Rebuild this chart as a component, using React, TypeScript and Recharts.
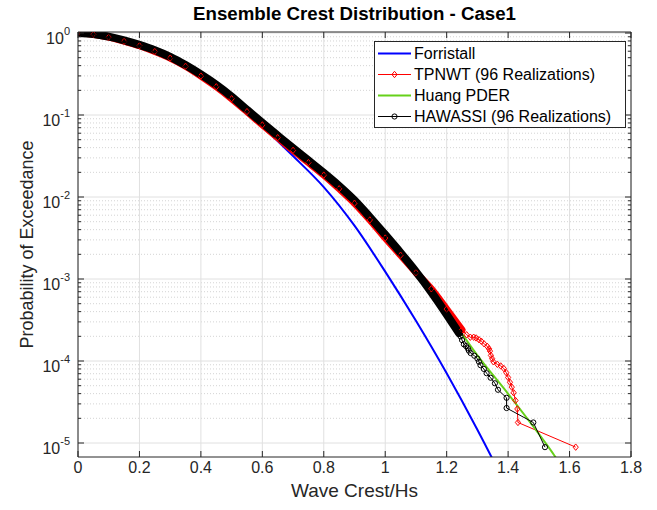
import React from 'react';
import { LineChart, Line, XAxis, YAxis, CartesianGrid, Legend } from 'recharts';

const FONT = '"Liberation Sans", Arial, Helvetica, sans-serif';
const AX = '#262626';

const xTicks = [0, 0.2, 0.4, 0.6, 0.8, 1, 1.2, 1.4, 1.6, 1.8];
const yMajor = [1e-5, 1e-4, 1e-3, 1e-2, 1e-1, 1];
const yMinor = yMajor.slice(0, -1).flatMap((d) => [2, 3, 4, 5, 6, 7, 8, 9].map((m) => m * d));
const yAll = [...yMajor, ...yMinor].sort((a, b) => a - b);

// Forristall (blue)
const forristall = [
  { x: 0, p: 1 }, { x: 0.1, p: 0.902 }, { x: 0.2, p: 0.716 }, { x: 0.3, p: 0.513 },
  { x: 0.4, p: 0.313 }, { x: 0.5, p: 0.158 }, { x: 0.6, p: 0.0724 }, { x: 0.7, p: 0.0316 },
  { x: 0.8, p: 0.0132 }, { x: 0.9, p: 0.00447 }, { x: 1.0, p: 0.00123 }, { x: 1.1, p: 3.09e-4 },
  { x: 1.2, p: 7.08e-5 }, { x: 1.3, p: 1.45e-5 }, { x: 1.35, p: 6.3e-6 }, { x: 1.37, p: 4.47e-6 },
];

// TPNWT (red) - dense part and sparse tail
const tpnwtDense = [
  { x: 0, p: 1 }, { x: 0.05, p: 0.966 }, { x: 0.1, p: 0.891 }, { x: 0.15, p: 0.794 },
  { x: 0.2, p: 0.7 }, { x: 0.25, p: 0.596 }, { x: 0.3, p: 0.495 }, { x: 0.35, p: 0.394 },
  { x: 0.4, p: 0.299 }, { x: 0.45, p: 0.221 }, { x: 0.5, p: 0.158 }, { x: 0.55, p: 0.11 },
  { x: 0.6, p: 0.0757 }, { x: 0.65, p: 0.053 }, { x: 0.7, p: 0.0371 }, { x: 0.75, p: 0.0263 },
  { x: 0.8, p: 0.0185 }, { x: 0.85, p: 0.0126 }, { x: 0.9, p: 0.0084 }, { x: 0.95, p: 0.00525 },
  { x: 1.0, p: 0.00316 }, { x: 1.05, p: 0.00195 }, { x: 1.1, p: 0.0012 }, { x: 1.15, p: 0.00076 },
  { x: 1.2, p: 0.00043 }, { x: 1.25, p: 0.00024 },
];
const tpnwtTail = [
  { x: 1.265, p: 2.09e-4 }, { x: 1.277, p: 1.95e-4 }, { x: 1.288, p: 1.95e-4 }, { x: 1.296, p: 1.91e-4 },
  { x: 1.305, p: 1.82e-4 }, { x: 1.313, p: 1.74e-4 }, { x: 1.322, p: 1.62e-4 }, { x: 1.332, p: 1.51e-4 },
  { x: 1.338, p: 1.41e-4 }, { x: 1.341, p: 1.32e-4 }, { x: 1.344, p: 1.17e-4 }, { x: 1.348, p: 1.07e-4 },
  { x: 1.352, p: 9.8e-5 }, { x: 1.365, p: 9.1e-5 }, { x: 1.376, p: 8.7e-5 }, { x: 1.386, p: 8.1e-5 },
  { x: 1.394, p: 7.2e-5 }, { x: 1.4, p: 6.3e-5 }, { x: 1.406, p: 5.5e-5 }, { x: 1.412, p: 4.8e-5 },
  { x: 1.418, p: 4.1e-5 }, { x: 1.424, p: 3.3e-5 }, { x: 1.43, p: 2.6e-5 }, { x: 1.432, p: 1.78e-5 },
  { x: 1.62, p: 8.9e-6 },
];

// Huang PDER (green)
const huang = [
  { x: 0, p: 1 }, { x: 0.1, p: 0.9 }, { x: 0.2, p: 0.716 }, { x: 0.3, p: 0.513 },
  { x: 0.4, p: 0.313 }, { x: 0.5, p: 0.168 }, { x: 0.6, p: 0.0804 }, { x: 0.7, p: 0.0394 },
  { x: 0.8, p: 0.0197 }, { x: 0.9, p: 0.0091 }, { x: 1.0, p: 0.0036 }, { x: 1.1, p: 0.00132 },
  { x: 1.2, p: 0.000398 }, { x: 1.3, p: 0.000117 }, { x: 1.4, p: 3.98e-5 }, { x: 1.5, p: 1.29e-5 },
  { x: 1.55, p: 7.1e-6 }, { x: 1.57, p: 5.4e-6 },
];

// HAWASSI (black) - dense part and sparse tail
const hawassiDense = [
  { x: 0, p: 1 }, { x: 0.05, p: 0.973 }, { x: 0.1, p: 0.902 }, { x: 0.15, p: 0.813 },
  { x: 0.2, p: 0.716 }, { x: 0.25, p: 0.617 }, { x: 0.3, p: 0.513 }, { x: 0.35, p: 0.407 },
  { x: 0.4, p: 0.313 }, { x: 0.45, p: 0.234 }, { x: 0.5, p: 0.168 }, { x: 0.55, p: 0.116 },
  { x: 0.6, p: 0.0804 }, { x: 0.65, p: 0.0562 }, { x: 0.7, p: 0.0394 }, { x: 0.75, p: 0.0279 },
  { x: 0.8, p: 0.0197 }, { x: 0.85, p: 0.01365 }, { x: 0.9, p: 0.00912 }, { x: 0.95, p: 0.00569 },
  { x: 1.0, p: 0.00347 }, { x: 1.05, p: 0.00209 }, { x: 1.1, p: 0.00123 }, { x: 1.15, p: 0.000692 },
  { x: 1.2, p: 0.00037 }, { x: 1.24, p: 0.00022 },
];
const hawassiTail = [
  { x: 1.245, p: 2.0e-4 }, { x: 1.25, p: 1.8e-4 }, { x: 1.256, p: 1.6e-4 }, { x: 1.263, p: 1.52e-4 },
  { x: 1.269, p: 1.43e-4 }, { x: 1.272, p: 1.34e-4 }, { x: 1.278, p: 1.25e-4 }, { x: 1.29, p: 1.16e-4 },
  { x: 1.3, p: 1.07e-4 }, { x: 1.305, p: 9.8e-5 }, { x: 1.31, p: 8.9e-5 }, { x: 1.321, p: 8.0e-5 },
  { x: 1.33, p: 7.1e-5 }, { x: 1.343, p: 6.25e-5 }, { x: 1.357, p: 5.35e-5 }, { x: 1.367, p: 4.46e-5 },
  { x: 1.395, p: 3.56e-5 }, { x: 1.395, p: 2.67e-5 }, { x: 1.482, p: 1.78e-5 }, { x: 1.52, p: 8.9e-6 },
];

const tpnwt = [...tpnwtDense, ...tpnwtTail];
const hawassi = [...hawassiDense, ...hawassiTail];

const series = [
  { name: 'Forristall', color: '#0000ff', width: 2, marker: 'none' },
  { name: 'TPNWT (96 Realizations)', color: '#ff0000', width: 1, marker: 'diamond' },
  { name: 'Huang PDER', color: '#66d11a', width: 2, marker: 'none' },
  { name: 'HAWASSI (96 Realizations)', color: '#000000', width: 1, marker: 'circle' },
];

const isDecade = (v: number) => Math.abs(Math.log10(v) - Math.round(Math.log10(v))) < 1e-6;

const BottomTick = ({ x, y, payload }: any) => (
  <g>
    <line x1={x} x2={x} y1={y - 5} y2={y - 11} stroke={AX} />
    <text x={x} y={y} dy="0.71em" textAnchor="middle" fill={AX} fontSize={16} fontFamily={FONT}>
      {payload.value}
    </text>
  </g>
);

const TopTick = ({ x, y }: any) => <line x1={x} x2={x} y1={y} y2={y + 6} stroke={AX} />;

const LeftTick = ({ x, y, payload }: any) => {
  const major = isDecade(payload.value);
  const ax = x + 8;
  return (
    <g>
      <line x1={ax} x2={ax + (major ? 6 : 3)} y1={y} y2={y} stroke={AX} />
      {major && (
        <text x={x} y={y + 11} textAnchor="end" fill={AX} fontSize={16} fontFamily={FONT}>
          10
          <tspan dy={-9} fontSize={11}>
            {Math.round(Math.log10(payload.value))}
          </tspan>
        </text>
      )}
    </g>
  );
};

const RightTick = ({ x, y, payload }: any) => {
  const major = isDecade(payload.value);
  return <line x1={x} x2={x - (major ? 6 : 3)} y1={y} y2={y} stroke={AX} />;
};

const circleDot = (props: any) => (
  <circle key={`c-${props.index}`} cx={props.cx} cy={props.cy} r={2.6} fill="none" stroke="#000" strokeWidth={1} />
);

const diamondDot = (props: any) => {
  const { cx, cy } = props;
  return (
    <path
      key={`d-${props.index}`}
      d={`M${cx},${cy - 3.2}L${cx + 2.6},${cy}L${cx},${cy + 3.2}L${cx - 2.6},${cy}Z`}
      fill="none"
      stroke="#ff0000"
      strokeWidth={1}
    />
  );
};

const LegendBox = () => (
  <div
    style={{
      border: `1px solid ${AX}`,
      background: '#fff',
      width: 250,
      padding: '1px 0 0 0',
      fontFamily: FONT,
      fontSize: 16,
      color: '#000',
    }}
  >
    {series.map((s) => (
      <div key={s.name} style={{ display: 'flex', alignItems: 'center', height: 21 }}>
        <svg width={39} height={21} style={{ flex: 'none' }}>
          <line x1={3} x2={36} y1={10.5} y2={10.5} stroke={s.color} strokeWidth={s.width} />
          {s.marker === 'circle' && <circle cx={19.5} cy={10.5} r={2.6} fill="none" stroke={s.color} />}
          {s.marker === 'diamond' && (
            <path d="M19.5,7.3L22.1,10.5L19.5,13.7L16.9,10.5Z" fill="none" stroke={s.color} />
          )}
        </svg>
        <span style={{ whiteSpace: 'nowrap' }}>{s.name}</span>
      </div>
    ))}
  </div>
);

export default function App() {
  return (
    <div style={{ position: 'absolute', left: 0, top: 0, width: 657, height: 510, background: '#fff' }}>
      <LineChart width={657} height={510} margin={{ top: 31, right: 25, bottom: 23, left: 8 }}>
        <CartesianGrid horizontalValues={yMinor} vertical={false} stroke="#d4d4d4" strokeDasharray="1 2" />
        <CartesianGrid horizontalValues={yMajor} verticalValues={xTicks} stroke="#e0e0e0" />
        <XAxis
          dataKey="x"
          type="number"
          domain={[0, 1.8]}
          ticks={xTicks}
          interval={0}
          allowDataOverflow
          height={30}
          tickSize={0}
          tickMargin={5}
          tick={BottomTick}
          stroke={AX}
          label={{ value: 'Wave Crest/Hs', position: 'bottom', offset: -3, fill: AX, fontSize: 19, fontFamily: FONT }}
        />
        <XAxis
          xAxisId="t"
          orientation="top"
          dataKey="x"
          type="number"
          domain={[0, 1.8]}
          ticks={xTicks}
          interval={0}
          allowDataOverflow
          height={1}
          tickSize={0}
          tickMargin={0}
          tick={TopTick}
          stroke={AX}
          label={{
            value: 'Ensemble Crest Distribution - Case1',
            position: 'top',
            offset: 11,
            fill: '#000',
            fontSize: 18.7,
            fontWeight: 'bold',
            fontFamily: FONT,
          }}
        />
        <YAxis
          type="number"
          scale="log"
          domain={[6.75e-6, 1.029]}
          ticks={yAll}
          interval={0}
          allowDataOverflow
          width={70}
          tickSize={0}
          tickMargin={8}
          tick={LeftTick}
          stroke={AX}
          label={{
            value: 'Probability of Exceedance',
            angle: -90,
            position: 'insideLeft',
            offset: 19,
            fill: AX,
            fontSize: 18,
            fontFamily: FONT,
            style: { textAnchor: 'middle' },
          }}
        />
        <YAxis
          yAxisId="r"
          orientation="right"
          type="number"
          scale="log"
          domain={[6.75e-6, 1.029]}
          ticks={yAll}
          interval={0}
          allowDataOverflow
          width={1}
          tickSize={0}
          tickMargin={0}
          tick={RightTick}
          stroke={AX}
        />
        <Legend
          content={<LegendBox />}
          layout="vertical"
          align="center"
          verticalAlign="middle"
          wrapperStyle={{ position: 'absolute', left: 374, top: 41, width: 252, height: 'auto' }}
        />
        <Line data={forristall} dataKey="p" name="Forristall" type="monotone" stroke="#0000ff" strokeWidth={2} dot={false} isAnimationActive={false} />
        <Line data={tpnwtDense} dataKey="p" legendType="none" type="monotone" stroke="#ff0000" strokeWidth={7} strokeLinecap="round" dot={false} isAnimationActive={false} />
        <Line data={tpnwt} dataKey="p" name="TPNWT (96 Realizations)" type="linear" stroke="#ff0000" strokeWidth={1} dot={diamondDot} isAnimationActive={false} />
        <Line data={huang} dataKey="p" name="Huang PDER" type="monotone" stroke="#66d11a" strokeWidth={2} dot={false} isAnimationActive={false} />
        <Line data={hawassi} dataKey="p" name="HAWASSI (96 Realizations)" type="linear" stroke="#000" strokeWidth={1} dot={circleDot} isAnimationActive={false} />
        <Line data={hawassiDense} dataKey="p" legendType="none" type="monotone" stroke="#000" strokeWidth={8} strokeLinecap="round" dot={false} isAnimationActive={false} />
      </LineChart>
    </div>
  );
}
